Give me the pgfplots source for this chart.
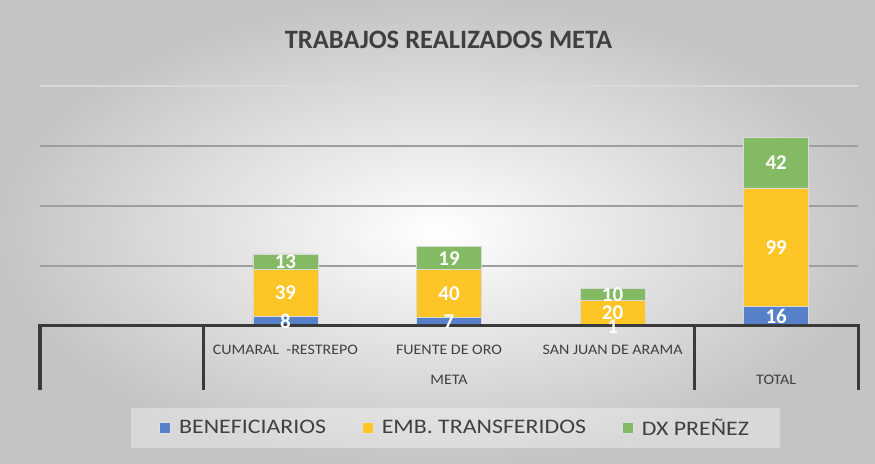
\documentclass[border=0pt]{standalone}
\usepackage{fontspec}
\setmainfont{Carlito}
\usepackage{graphicx}
\usepackage{pgfplots}
\pgfplotsset{compat=1.18}
\definecolor{cBlue}{HTML}{5681CA}
\definecolor{cYel}{HTML}{FEC526}
\definecolor{cGrn}{HTML}{84BA64}
\definecolor{txt}{HTML}{404040}
\definecolor{axln}{HTML}{3A3A3A}
\newcommand\lgd[1]{\scalebox{1.155}[1]{\fontsize{15.5}{18}\selectfont #1}}
\newcommand\tkl[1]{\scalebox{1.1}[1]{\fontsize{10.9}{13}\selectfont #1}}
\pgfplotsset{base/.style={at={(30pt,103.5pt)}, anchor=south west, scale only axis,
  width=613.5pt, height=180pt, xmin=-0.5, xmax=4.5, ymin=0, ymax=200}}
\begin{document}
\begin{tikzpicture}
\useasboundingbox (0,0) rectangle (656.25pt,348pt);
\shade[inner color=white, outer color=black!23] (0,0) rectangle (656.25pt,348pt);
\node[txt, font=\fontsize{19.9}{22}\selectfont\bfseries] at (336.4pt,318.2pt) {TRABAJOS REALIZADOS META};
\begin{axis}[base, ybar stacked, bar width=48.75pt, axis line style={draw=none},
  xtick=\empty, ytick={0,50,100,150}, yticklabels={},
  extra y ticks={200}, extra y tick labels={},
  extra y tick style={major grid style={black!15, line width=0.9pt}},
  major tick length=0pt, ymajorgrids, major grid style={black!38, line width=0.9pt},
  legend style={at={(0.508,-0.425)}, anchor=center, legend columns=3, draw=none,
    fill=white, fill opacity=0.35, text opacity=1, text=txt,
    inner xsep=21pt, inner ysep=6pt,
    /tikz/every odd column/.append style={column sep=4pt},
    /tikz/every even column/.append style={column sep=25pt}},
  legend image code/.code={\draw[#1, fill opacity=1, draw opacity=1, draw=white!75!gray, line width=0.5pt] (0pt,-3.8pt) rectangle (8.25pt,4.45pt);}]
\addplot[fill=cBlue, draw=white!85!black, line width=0.6pt] coordinates {(1,8) (2,7) (3,1) (4,16)};
\addplot[fill=cYel, draw=white!85!black, line width=0.6pt] coordinates {(1,39) (2,40) (3,20) (4,99)};
\addplot[fill=cGrn, draw=white!85!black, line width=0.6pt] coordinates {(1,13) (2,19) (3,10) (4,42)};
\legend{\lgd{BENEFICIARIOS}, \lgd{EMB. TRANSFERIDOS}, \lgd{DX PREÑEZ}}
\end{axis}
\begin{axis}[base, hide axis, clip=false]
\addplot[only marks, mark=none, nodes near coords, point meta=explicit symbolic,
  nodes near coords align=center,
  every node near coord/.append style={white, font=\fontsize{15.75}{18}\selectfont\bfseries, anchor=center}]
  coordinates {(1,4)[8] (1,27.5)[39] (1,53.5)[13]
               (2,3.5)[7] (2,27)[40] (2,56.5)[19]
               (3,-0.5)[1] (3,11)[20] (3,26)[10]
               (4,8)[16] (4,65.5)[99] (4,136)[42]};
\draw[axln, line width=2.25pt, line join=miter] (axis cs:-0.5,-53.3) -- (axis cs:-0.5,0) -- (axis cs:4.5,0) -- (axis cs:4.5,-53.3);
\draw[axln, line width=2.25pt] (axis cs:0.5,0) -- (axis cs:0.5,-53.3);
\draw[axln, line width=2.25pt] (axis cs:3.5,0) -- (axis cs:3.5,-53.3);
\node[txt] at (axis cs:1,-20) {\tkl{CUMARAL\ \ -RESTREPO}};
\node[txt] at (axis cs:2,-20) {\tkl{FUENTE DE ORO}};
\node[txt] at (axis cs:3,-20) {\tkl{SAN JUAN DE ARAMA}};
\node[txt] at (axis cs:2,-45) {\tkl{META}};
\node[txt] at (axis cs:4,-45) {\tkl{TOTAL}};
\end{axis}
\end{tikzpicture}
\end{document}
